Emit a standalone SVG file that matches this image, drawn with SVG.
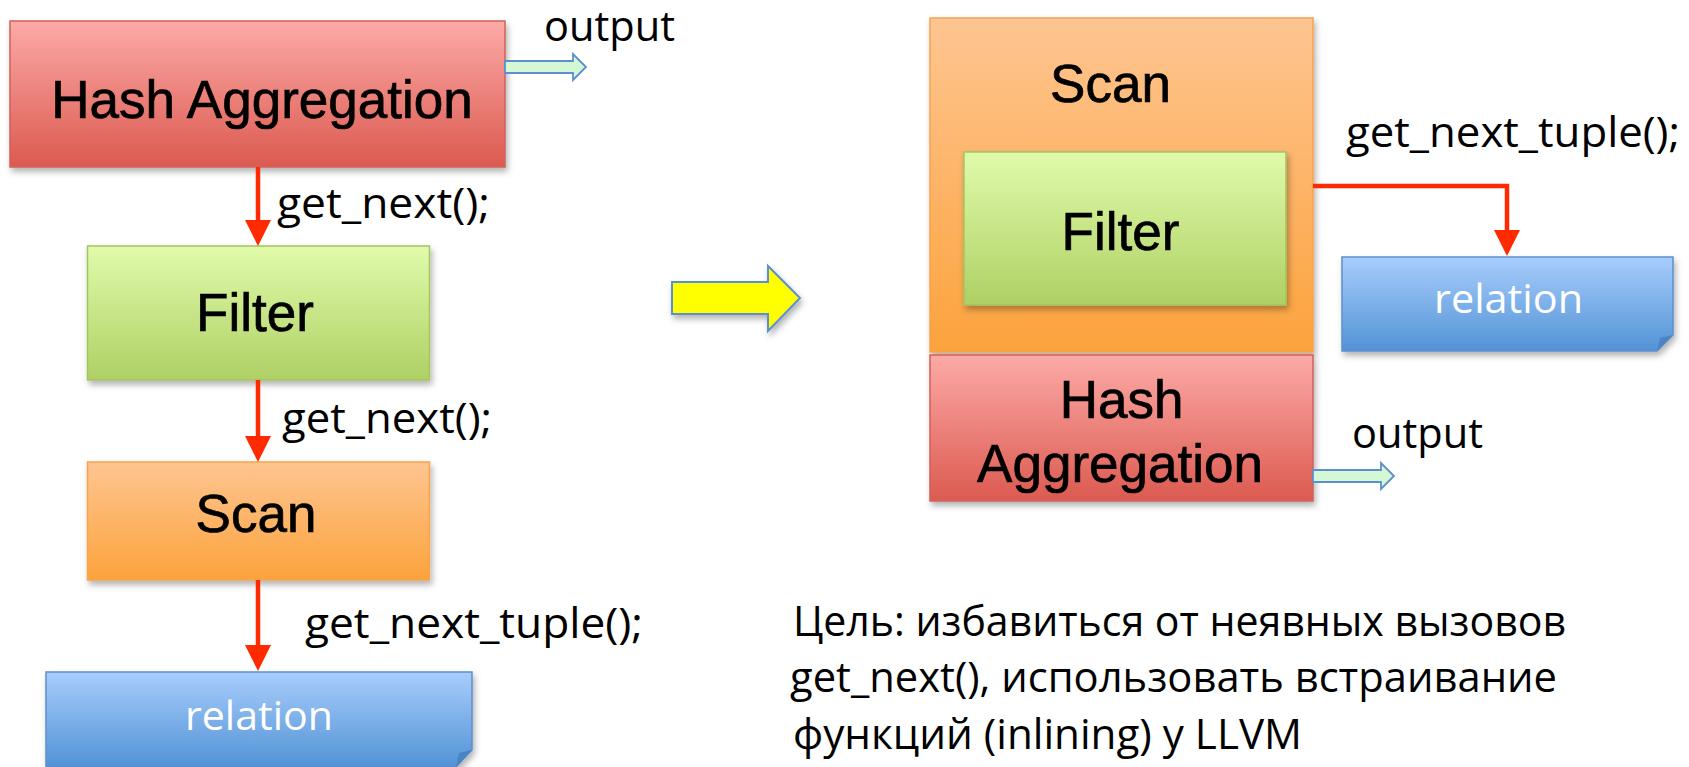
<svg xmlns="http://www.w3.org/2000/svg" width="1689" height="767" viewBox="0 0 1689 767">
<defs>
  <linearGradient id="gRed" x1="0" y1="0" x2="0" y2="1">
    <stop offset="0" stop-color="#fdaaa7"/>
    <stop offset="1" stop-color="#db5a50"/>
  </linearGradient>
  <linearGradient id="gGreen" x1="0" y1="0" x2="0" y2="1">
    <stop offset="0" stop-color="#e1fbab"/>
    <stop offset="1" stop-color="#aed064"/>
  </linearGradient>
  <linearGradient id="gOrange" x1="0" y1="0" x2="0" y2="1">
    <stop offset="0" stop-color="#fec591"/>
    <stop offset="1" stop-color="#fca33c"/>
  </linearGradient>
  <linearGradient id="gBlue" x1="0" y1="0" x2="0" y2="1">
    <stop offset="0" stop-color="#a8cdfc"/>
    <stop offset="1" stop-color="#5293d6"/>
  </linearGradient>
  <filter id="sh" x="-10%" y="-10%" width="125%" height="130%">
    <feDropShadow dx="2" dy="4" stdDeviation="3" flood-color="#000" flood-opacity="0.3"/>
  </filter>
  <marker id="ah" viewBox="0 0 26 26" markerWidth="26" markerHeight="26" markerUnits="userSpaceOnUse" refX="2" refY="13" orient="auto">
    <path d="M0,0 L26,13 L0,26 Z" fill="#ff2a00"/>
  </marker>
</defs>
<style>
  .red{fill:url(#gRed);stroke:#d0605a;stroke-width:1.5}
  .green{fill:url(#gGreen);stroke:#a2c561;stroke-width:1.5}
  .orange{fill:url(#gOrange);stroke:#f7a24e;stroke-width:1.5}
  .blue{fill:url(#gBlue);stroke:#5e8fcc;stroke-width:1.5}
  .fold{fill:#4b84c4}
  .nt{font-family:"Liberation Sans",Arial,sans-serif;font-size:53px;fill:#000;stroke:#000;stroke-width:0.7;text-anchor:middle}
  .ct{font-family:"Open Sans","Noto Sans",sans-serif;font-size:42px;fill:#000}
  .rt{font-family:"Open Sans","Noto Sans",sans-serif;font-size:41px;fill:#fff;text-anchor:middle}
  .conn{fill:none;stroke:#ff2a00;stroke-width:4.5}
  .out{fill:#d3f8d3;stroke:#5b8fd0;stroke-width:1.8}
  .big{fill:#ffff00;stroke:#5b8fd0;stroke-width:2}
</style>

<!-- left side -->
<g id="hash-left">
  <rect class="red" x="10" y="21" width="495" height="146" filter="url(#sh)"/>
  <text class="nt" x="262" y="118">Hash Aggregation</text>
</g>
<g id="filter-left">
  <rect class="green" x="87.5" y="246" width="342" height="134" filter="url(#sh)"/>
  <text class="nt" x="255" y="331">Filter</text>
</g>
<g id="scan-left">
  <rect class="orange" x="87.5" y="462" width="342" height="118" filter="url(#sh)"/>
  <text class="nt" x="256" y="532">Scan</text>
</g>
<g id="relation-left">
  <path class="blue" d="M46,672 H472 V750 L456,767 H46 Z" filter="url(#sh)"/>
  <path class="fold" d="M472,750 L456,767 L459,753 Z"/>
  <text class="rt" x="259" y="730" textLength="148" lengthAdjust="spacingAndGlyphs">relation</text>
</g>

<!-- right side -->
<g id="scan-right">
  <rect class="orange" x="930" y="18" width="383" height="334" filter="url(#sh)"/>
  <text class="nt" x="1110.5" y="102">Scan</text>
</g>
<g id="filter-right">
  <rect class="green" x="964" y="152" width="322" height="153" filter="url(#sh)"/>
  <text class="nt" x="1120.5" y="250">Filter</text>
</g>
<g id="hash-right">
  <rect class="red" x="930" y="355" width="383" height="146" filter="url(#sh)"/>
  <text class="nt" x="1121.5" y="418">Hash</text>
  <text class="nt" x="1120" y="482">Aggregation</text>
</g>
<g id="relation-right">
  <path class="blue" d="M1342,257 H1673 V335 L1657,351 H1342 Z" filter="url(#sh)"/>
  <path class="fold" d="M1673,335 L1657,351 L1660,338 Z"/>
  <text class="rt" x="1508.5" y="313" textLength="149" lengthAdjust="spacingAndGlyphs">relation</text>
</g>

<!-- transform arrow -->
<g id="transform-arrow">
  <polygon class="big" points="672,282 768,282 768,266 800,298 768,331 768,314 672,314" filter="url(#sh)"/>
</g>

<!-- connectors -->
<g id="connectors">
  <path class="conn" d="M258,167 V222" marker-end="url(#ah)"/>
  <path class="conn" d="M258,380 V438" marker-end="url(#ah)"/>
  <path class="conn" d="M258,580 V647" marker-end="url(#ah)"/>
  <path class="conn" d="M1313,186 H1507 V232" marker-end="url(#ah)"/>
  <polygon class="out" points="505,61 573,61 573,54 586,67 573,80 573,73 505,73"/>
  <polygon class="out" points="1313,470 1381,470 1381,463 1394,476 1381,489 1381,482 1313,482"/>
</g>

<!-- labels -->
<g id="labels">
  <text class="ct" x="544" y="41" textLength="131" lengthAdjust="spacingAndGlyphs">output</text>
  <text class="ct" x="1352" y="448" textLength="131" lengthAdjust="spacingAndGlyphs">output</text>
  <text class="ct" x="277" y="218" textLength="213" lengthAdjust="spacingAndGlyphs">get_next();</text>
  <text class="ct" x="282" y="433" textLength="210" lengthAdjust="spacingAndGlyphs">get_next();</text>
  <text class="ct" x="305" y="638" textLength="338" lengthAdjust="spacingAndGlyphs">get_next_tuple();</text>
  <text class="ct" x="1346" y="147" textLength="334" lengthAdjust="spacingAndGlyphs">get_next_tuple();</text>
</g>

<g id="note">
  <text class="ct" x="793" y="636" textLength="773" lengthAdjust="spacingAndGlyphs">Цель: избавиться от неявных вызовов</text>
  <text class="ct" x="790" y="692" textLength="767" lengthAdjust="spacingAndGlyphs">get_next(), использовать встраивание</text>
  <text class="ct" x="793" y="749" textLength="509" lengthAdjust="spacingAndGlyphs">функций (inlining) у LLVM</text>
</g>
</svg>
